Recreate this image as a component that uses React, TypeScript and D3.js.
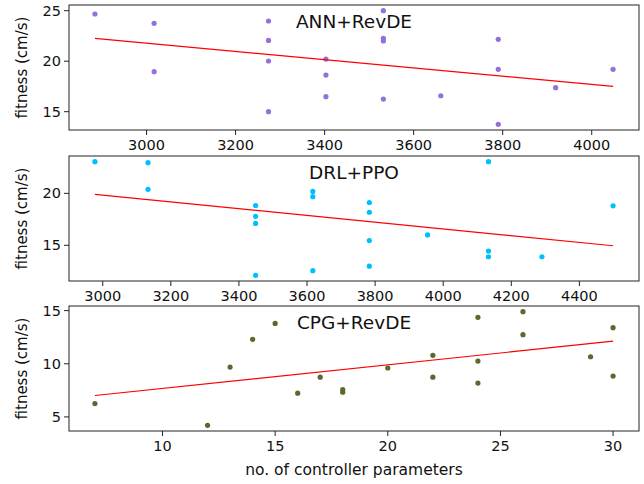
import React from 'react';
import * as d3 from 'd3';

// fitness vs. number of controller parameters, one panel per method
const annParams = [2884, 3017, 3017, 3274, 3274, 3274, 3274, 3403, 3403, 3403, 3532, 3532, 3532, 3532, 3661, 3790, 3790, 3790, 3919, 4048];
const annFitness = [24.67, 23.75, 18.96, 23.98, 22.06, 20.02, 15.0, 20.21, 18.63, 16.49, 25.0, 22.26, 22.0, 16.25, 16.58, 22.16, 19.19, 13.75, 17.38, 19.19];

const drlParams = [2977, 3133, 3133, 3449, 3449, 3449, 3449, 3617, 3617, 3617, 3783, 3783, 3783, 3783, 3954, 4133, 4133, 4133, 4290, 4499];
const drlFitness = [23.05, 22.95, 20.39, 18.83, 17.79, 17.11, 12.11, 20.19, 19.68, 12.56, 19.12, 18.18, 15.45, 12.99, 16.0, 23.05, 14.45, 13.9, 13.9, 18.8];

const cpgParams = [7, 12, 13, 14, 15, 16, 17, 18, 18, 20, 22, 22, 24, 24, 24, 26, 26, 29, 30, 30];
const cpgFitness = [6.26, 4.21, 9.69, 12.3, 13.8, 7.23, 8.74, 7.58, 7.33, 9.6, 10.79, 8.74, 14.37, 10.25, 8.18, 14.9, 12.74, 10.66, 13.4, 8.84];

const annXTicks = [3000, 3200, 3400, 3600, 3800, 4000];
const drlXTicks = [3000, 3200, 3400, 3600, 3800, 4000, 4200, 4400];
const cpgXTicks = [10, 15, 20, 25, 30];
const annYTicks = [15, 20, 25];
const drlYTicks = [15, 20];
const cpgYTicks = [5, 10, 15];

const titles = ['ANN+RevDE', 'DRL+PPO', 'CPG+RevDE'];

const W = 644;
const H = 484;
const left = 69;
const right = 639;
const panelH = 125;
const tops = [5, 156, 306];
const font = 'DejaVu Sans, sans-serif';

function padded(vals: number[]) {
  const [a, b] = d3.extent(vals) as [number, number];
  const p = (b - a) * 0.05;
  return [a - p, b + p];
}

function fit(xs: number[], ys: number[]) {
  const mx = d3.mean(xs) as number;
  const my = d3.mean(ys) as number;
  let sxy = 0;
  let sxx = 0;
  xs.forEach((x, i) => {
    sxy += (x - mx) * (ys[i] - my);
    sxx += (x - mx) * (x - mx);
  });
  const slope = sxy / sxx;
  return (x: number) => my + slope * (x - mx);
}

function Panel({ xs, ys, xTicks, yTicks, top, title, color, xLabel }: any) {
  const x = d3.scaleLinear().domain(padded(xs)).range([left, right]);
  const y = d3.scaleLinear().domain(padded(ys)).range([top + panelH, top]);
  const f = fit(xs, ys);
  const [x0, x1] = d3.extent(xs) as [number, number];
  const line = d3.line<number>().x(d => x(d)).y(d => y(f(d)));
  const bottom = top + panelH;

  return (
    <g>
      {ys.map((v: number, i: number) => (
        <circle key={i} cx={x(xs[i])} cy={y(v)} r={2.6} fill={color} />
      ))}
      <path d={line([x0, x1]) as string} stroke="red" strokeWidth={1.2} fill="none" />
      <rect x={left} y={top} width={right - left} height={panelH} fill="none" stroke="#222" strokeWidth={1} />
      {xTicks.map((t: number) => (
        <g key={t}>
          <line x1={x(t)} x2={x(t)} y1={bottom} y2={bottom + 5} stroke="#222" />
          <text x={x(t)} y={bottom + 15} textAnchor="middle" dominantBaseline="central" fontSize={14.5} fontFamily={font} fill="#111">{t}</text>
        </g>
      ))}
      {yTicks.map((t: number) => (
        <g key={t}>
          <line x1={left - 5} x2={left} y1={y(t)} y2={y(t)} stroke="#222" />
          <text x={left - 8} y={y(t)} textAnchor="end" dominantBaseline="central" fontSize={14.5} fontFamily={font} fill="#111">{t}</text>
        </g>
      ))}
      <text x={(left + right) / 2} y={top + 16} textAnchor="middle" dominantBaseline="central" fontSize={18.5} fontFamily={font} fill="#111">{title}</text>
      <text transform={`translate(22,${top + panelH / 2}) rotate(-90)`} textAnchor="middle" dominantBaseline="central" fontSize={15} fontFamily={font} fill="#111">fitness (cm/s)</text>
      {xLabel && (
        <text x={(left + right) / 2} y={bottom + 39} textAnchor="middle" dominantBaseline="central" fontSize={15.5} fontFamily={font} fill="#111">{xLabel}</text>
      )}
    </g>
  );
}

export default function App() {
  return (
    <svg width={W} height={H} style={{ position: 'absolute', left: 0, top: 0, background: '#fff' }}>
      <Panel xs={annParams} ys={annFitness} xTicks={annXTicks} yTicks={annYTicks} top={tops[0]} title={titles[0]} color="#9370DB" />
      <Panel xs={drlParams} ys={drlFitness} xTicks={drlXTicks} yTicks={drlYTicks} top={tops[1]} title={titles[1]} color="#00BFFF" />
      <Panel xs={cpgParams} ys={cpgFitness} xTicks={cpgXTicks} yTicks={cpgYTicks} top={tops[2]} title={titles[2]} color="#556B2F" xLabel="no. of controller parameters" />
    </svg>
  );
}
